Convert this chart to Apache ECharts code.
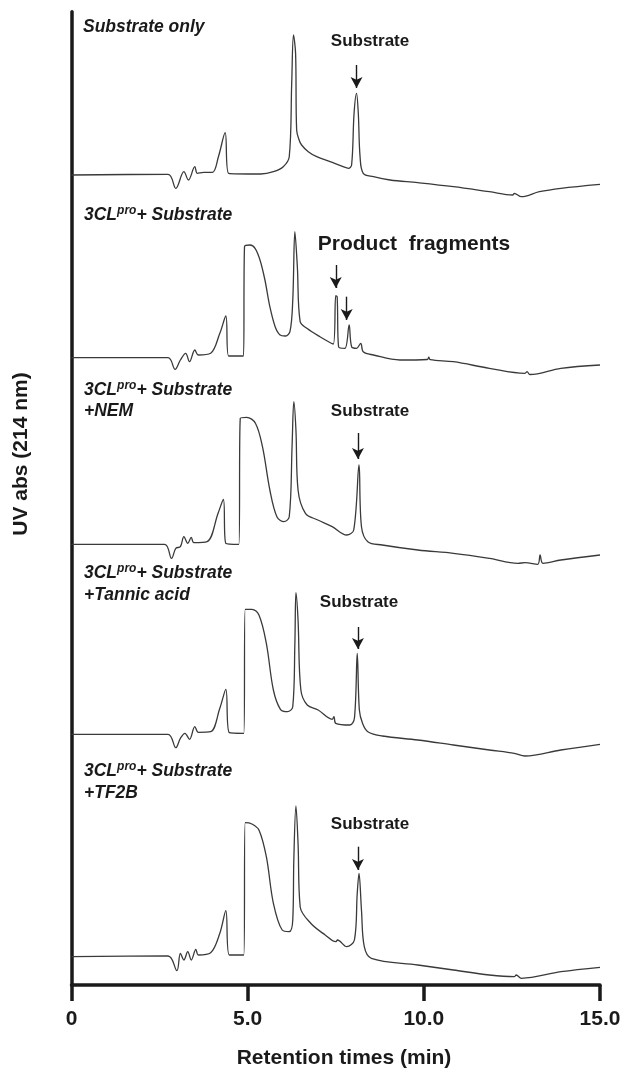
<!DOCTYPE html>
<html>
<head>
<meta charset="utf-8">
<script src="https://cdn.jsdelivr.net/npm/echarts@6/dist/echarts.min.js"></script>
<style>html,body{margin:0;padding:0;background:#fff;}#c{width:641px;height:1071px;}</style>
</head>
<body>
<div id="c"></div>
<script>
// Retention time ticks
const xTicks = [0, 5, 10, 15];
// Trace names
const traceNames = ['Substrate only', '3CLpro + Substrate', '3CLpro + Substrate + NEM', '3CLpro + Substrate + Tannic acid', '3CLpro + Substrate + TF2B'];
// Vertical offsets of each trace (stacked display, arbitrary units)
const offsets = [810, 627.3, 440.7, 250.7, 28.3];

// Trace 1: Substrate only
const t1 = [0,2.74,2.96,3.19,3.32,3.50,3.57,3.75,4.00,4.17,4.36,4.46,5.37,5.73,6.01,6.18,6.25,6.30,6.36,6.39,6.46,6.53,6.72,6.96,7.34,7.71,7.86,7.95,8.02,8.09,8.14,8.19,8.28,8.57,9.04,9.83,10.84,11.86,12.52,12.57,12.77,13.28,13.89,15.00];
const a1 = [0,0.7,-13.3,3.3,-5,8.3,1.7,2.7,2.7,18.3,42.3,1.7,1,3.3,8.3,18.3,91.7,140,121.7,45,35,30,23.3,18.3,13.3,8.3,6.7,10,61.7,81.7,61.7,18.3,1.7,-1.7,-5,-7.7,-11.7,-16.7,-20,-18.3,-21.7,-16.7,-13.3,-9.3];

// Trace 2: 3CLpro + Substrate
const t2 = [0,2.74,2.94,3.09,3.24,3.35,3.50,3.60,3.95,4.21,4.38,4.46,4.88,4.91,5.07,5.21,5.35,5.49,5.63,5.78,5.92,6.06,6.20,6.28,6.34,6.41,6.49,6.68,7.05,7.43,7.50,7.54,7.58,7.76,7.88,7.95,8.09,8.21,8.28,8.57,9.32,10.10,10.14,10.18,10.84,11.86,12.87,12.93,13.01,13.89,15.00];
const a2 = [0,0,-11.6,-2.3,4.4,-4,7.7,2.7,4.4,24.4,41.7,1.7,1.7,111,112.7,109.4,97.7,77.7,51,31,22.7,21.7,26,57.7,126,91,36,29.4,21,13.7,62,61,11,9.4,32.7,11,9.4,14.4,6,2.7,-2.3,-1.8,0.5,-2,-4,-10.6,-15.6,-14,-16.8,-10.6,-7.3];

// Trace 3: 3CLpro + Substrate + NEM
const t3 = [0,2.64,2.84,2.96,3.09,3.19,3.30,3.40,3.47,3.85,4.16,4.31,4.38,4.75,4.79,4.97,5.22,5.42,5.63,5.83,6.03,6.18,6.26,6.31,6.37,6.43,6.64,6.99,7.40,7.81,8.01,8.16,8.23,8.41,8.82,9.83,10.84,11.86,12.67,12.87,13.23,13.30,13.38,13.89,15.00];
const a3 = [0,0,-14,-4,-2.4,7.6,1,7,1.6,2.6,31,45,1,0,126,127,121,97.6,54.3,27.6,22.6,27.6,97.6,142.6,114.3,54.3,31,24.3,17.6,9.3,14.3,79.3,17.6,2.6,-0.7,-5.7,-9,-14,-19,-18.4,-20,-10.7,-19,-15.7,-10.7];

// Trace 4: 3CLpro + Substrate + Tannic acid
const t4 = [0,2.74,2.96,3.09,3.22,3.35,3.50,3.60,3.95,4.21,4.38,4.48,4.89,4.93,5.12,5.32,5.53,5.73,5.93,6.13,6.28,6.34,6.37,6.43,6.51,6.69,7.00,7.40,7.45,7.50,7.90,8.03,8.11,8.17,8.26,8.41,8.82,9.83,10.84,11.86,12.57,12.87,13.89,15.00];
const a4 = [0,0,-13.4,-4,1,-5,7.6,2,2.6,26,45,1.6,1,125,125,119.3,91,44.3,25,22.6,27.6,91,141.6,114.3,44.3,29.3,24.3,15,17.6,11,9.3,16,81,24.3,11,2.6,-1.7,-5.7,-10.7,-15.7,-19,-21.7,-15.7,-10];

// Trace 5: 3CLpro + Substrate + TF2B
const t5 = [0,2.74,2.99,3.09,3.19,3.30,3.40,3.53,3.60,3.95,4.21,4.38,4.48,4.89,4.93,5.12,5.32,5.53,5.73,5.98,6.18,6.28,6.31,6.37,6.43,6.49,6.79,7.20,7.50,7.55,7.81,8.03,8.11,8.16,8.23,8.31,8.51,9.83,10.84,11.86,12.57,12.62,12.77,13.89,15.00];
const a5 = [0,0.7,-14,3.4,-3.3,5,-3.3,7.4,1.7,4,23.4,46,1.7,1.7,134,132.7,126.7,100,53.4,26.7,25,36.7,96.7,150.7,113.4,50,33.4,21.7,15,16.7,10,16.7,63.4,83.4,46.7,10,-1.6,-8.3,-13.3,-18.3,-20,-18.3,-21.6,-15,-10.6];

// Arrow annotations: [trace index, time, start level, end level] (stacked units)
const arrows = [
  [0, 8.09, 920, 897],
  [1, 7.50, 720, 697],
  [1, 7.81, 688.3, 665],
  [2, 8.13, 552, 526],
  [3, 8.13, 358, 336],
  [4, 8.13, 138.3, 115]
];

const times = [t1, t2, t3, t4, t5];
const abss = [a1, a2, a3, a4, a5];

const FF = '"Liberation Sans", Arial, Helvetica, sans-serif';
const INK = '#1a1a1a';

const series = times.map((t, k) => ({
  name: traceNames[k],
  type: 'line',
  data: t.map((x, i) => [x, abss[k][i] + offsets[k]]),
  showSymbol: false,
  symbol: 'none',
  smooth: 0.35,
  lineStyle: { color: '#3a3a3a', width: 1.3 },
  animation: false,
  markLine: {
    silent: true,
    animation: false,
    symbol: ['none', 'arrow'],
    symbolSize: [9, 11],
    lineStyle: { color: INK, width: 1.4, type: 'solid' },
    label: { show: false },
    data: arrows.filter(a => a[0] === k).map(a => [{ coord: [a[1], a[2]] }, { coord: [a[1], a[3]] }])
  }
}));

const labFont = 'italic bold 17.5px ' + FF;
const rich = {
  m: { fontSize: 17.5, fontWeight: 'bold', fontStyle: 'italic', fontFamily: FF, fill: INK, color: INK, lineHeight: 20 },
  p: { fontSize: 12, fontWeight: 'bold', fontStyle: 'italic', fontFamily: FF, fill: INK, color: INK, verticalAlign: 'top' }
};
function lab(x, y, text, isRich) {
  const st = { text: text, fill: INK, align: 'left', verticalAlign: 'middle', textAlign: 'left', textVerticalAlign: 'middle' };
  if (isRich) { st.rich = rich; } else { st.font = labFont; }
  return { type: 'text', x: x, y: y, style: st, silent: true };
}
function ann(x, y, text, size) {
  return { type: 'text', x: x, y: y, silent: true,
    style: { text: text, font: 'bold ' + size + 'px ' + FF, fill: INK, align: 'center', verticalAlign: 'middle', textAlign: 'center', textVerticalAlign: 'middle' } };
}

const graphics = [
  lab(83, 27, 'Substrate only', false),
  lab(84, 215, '{m|3CL}{p|pro}{m|+ Substrate}', true),
  lab(84, 390, '{m|3CL}{p|pro}{m|+ Substrate}', true),
  lab(84, 411, '+NEM', false),
  lab(84, 573, '{m|3CL}{p|pro}{m|+ Substrate}', true),
  lab(84, 595, '+Tannic acid', false),
  lab(84, 771, '{m|3CL}{p|pro}{m|+ Substrate}', true),
  lab(84, 793, '+TF2B', false),
  ann(370, 41, 'Substrate', 17),
  ann(414, 244, 'Product  fragments', 21),
  ann(370, 411, 'Substrate', 17),
  ann(359, 602, 'Substrate', 17),
  ann(370, 824, 'Substrate', 17),
  { type: 'text', x: 21, y: 454, rotation: Math.PI / 2, silent: true,
    style: { text: 'UV abs (214 nm)', font: 'bold 21px ' + FF, fill: INK, align: 'center', verticalAlign: 'middle', textAlign: 'center', textVerticalAlign: 'middle' } },
  { type: 'text', x: 344, y: 1058, silent: true,
    style: { text: 'Retention times (min)', font: 'bold 21px ' + FF, fill: INK, align: 'center', verticalAlign: 'middle', textAlign: 'center', textVerticalAlign: 'middle' } }
];

const chart = echarts.init(document.getElementById('c'), null, { renderer: 'canvas' });
chart.setOption({
  backgroundColor: '#ffffff',
  animation: false,
  grid: { left: 71.5, right: 41, top: 11.7, bottom: 86, containLabel: false },
  xAxis: {
    type: 'value', min: xTicks[0], max: xTicks[xTicks.length - 1], interval: xTicks[1] - xTicks[0],
    axisLine: { show: true, lineStyle: { color: INK, width: 3.5 } },
    axisTick: { show: true, length: 16, lineStyle: { color: INK, width: 3.5 } },
    axisLabel: { margin: 24, fontFamily: FF, fontWeight: 'bold', fontSize: 21, color: INK,
      formatter: v => v === 0 ? '0' : v.toFixed(1) },
    splitLine: { show: false }
  },
  yAxis: {
    type: 'value', min: 0, max: 973.3,
    axisLine: { show: true, lineStyle: { color: INK, width: 3.5 } },
    axisTick: { show: false }, axisLabel: { show: false }, splitLine: { show: false }
  },
  graphic: graphics,
  series: series
});
</script>
</body>
</html>
